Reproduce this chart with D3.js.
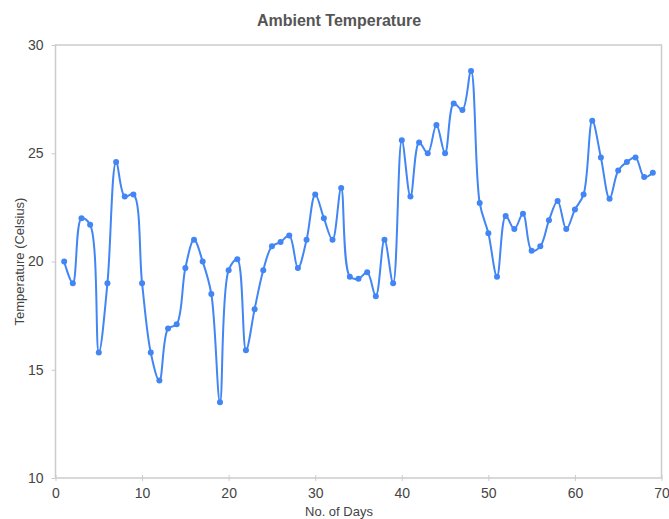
<!DOCTYPE html>
<html>
<head>
<meta charset="utf-8">
<script src="https://cdn.jsdelivr.net/npm/d3@7"></script>
<style>
  body { margin: 0; background: #fff; }
  svg { font-family: "Liberation Sans", Arial, sans-serif; }
</style>
</head>
<body>
<svg id="chart" width="669" height="519"></svg>
<script>
// days 1..69 and temperature readings
const days = d3.range(1, 70)
const temps = [20.0, 19.0, 22.0, 21.7, 15.8, 19.0, 24.6, 23.0, 23.1, 19.0,
         15.8, 14.5, 16.9, 17.1, 19.7, 21.0, 20.0, 18.5, 13.5, 19.6,
         20.1, 15.9, 17.8, 19.6, 20.7, 20.9, 21.2, 19.7, 21.0, 23.1,
         22.0, 21.0, 23.4, 19.3, 19.2, 19.5, 18.4, 21.0, 19.0, 25.6,
         23.0, 25.5, 25.0, 26.3, 25.0, 27.3, 27.0, 28.8, 22.7, 21.3,
         19.3, 22.1, 21.5, 22.2, 20.5, 20.7, 21.9, 22.8, 21.5, 22.4,
         23.1, 26.5, 24.8, 22.9, 24.2, 24.6, 24.8, 23.9, 24.1]
const xTicks = [0, 10, 20, 30, 40, 50, 60, 70]
const yTicks = [10, 15, 20, 25, 30]

const data = days.map((d, i) => [d, temps[i]])

// plot box (window.top is taken, so keep these named)
const plotLeft = 55.5, plotRight = 661.5, plotTop = 45, plotBottom = 478

const xScale = d3.scaleLinear().domain([0, 70]).range([plotLeft, plotRight])
const yScale = d3.scaleLinear().domain([10, 30]).range([plotBottom, plotTop])

const svg = d3.select("#chart")

// frame
svg.append("rect")
    .attr("x", plotLeft).attr("y", plotTop)
    .attr("width", plotRight - plotLeft).attr("height", plotBottom - plotTop)
    .attr("fill", "none")
    .attr("stroke", "#cccccc")
    .attr("stroke-width", 1.5)

// x axis
const xAxis = svg.append("g")
    .attr("transform", `translate(0,${plotBottom})`)
    .call(d3.axisBottom(xScale).tickValues(xTicks).tickSize(3).tickPadding(7))
xAxis.select(".domain").remove()
xAxis.selectAll(".tick line").attr("y1", -3).attr("stroke", "#cccccc")
xAxis.selectAll(".tick text")
    .attr("font-size", 14).attr("fill", "#444").attr("font-family", "Liberation Sans, Arial")

// y axis
const yAxis = svg.append("g")
    .attr("transform", `translate(${plotLeft},0)`)
    .call(d3.axisLeft(yScale).tickValues(yTicks).tickSize(4).tickPadding(8))
yAxis.select(".domain").remove()
yAxis.selectAll(".tick line").attr("stroke", "#cccccc")
yAxis.selectAll(".tick text")
    .attr("font-size", 14).attr("fill", "#444").attr("font-family", "Liberation Sans, Arial")

// line
const line = d3.line()
    .x(d => xScale(d[0]))
    .y(d => yScale(d[1]))
    .curve(d3.curveCatmullRom.alpha(0.5))

svg.append("path")
    .datum(data)
    .attr("d", line)
    .attr("fill", "none")
    .attr("stroke", "#4285f4")
    .attr("stroke-width", 2)

svg.selectAll("circle")
    .data(data)
    .join("circle")
    .attr("cx", d => xScale(d[0]))
    .attr("cy", d => yScale(d[1]))
    .attr("r", 3)
    .attr("fill", "#4285f4")

// titles
svg.append("text")
    .attr("x", 339).attr("y", 26)
    .attr("text-anchor", "middle")
    .attr("font-size", 16).attr("font-weight", "bold").attr("fill", "#555")
    .text("Ambient Temperature")

svg.append("text")
    .attr("x", 339).attr("y", 516)
    .attr("text-anchor", "middle")
    .attr("font-size", 13).attr("fill", "#444")
    .text("No. of Days")

svg.append("text")
    .attr("transform", `translate(24,${(plotTop + plotBottom) / 2}) rotate(-90)`)
    .attr("text-anchor", "middle")
    .attr("font-size", 13).attr("fill", "#444")
    .text("Temperature (Celsius)")
</script>
</body>
</html>
